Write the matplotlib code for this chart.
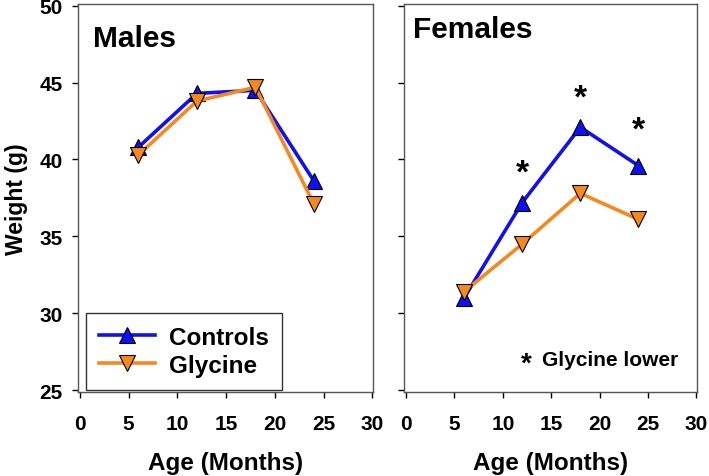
import matplotlib
matplotlib.use("Agg")
import matplotlib.pyplot as plt

plt.rcParams['font.family'] = ['Liberation Sans', 'DejaVu Sans']
plt.rcParams['font.weight'] = 'bold'

ages = [6, 12, 18, 24]
male_controls = [40.8, 44.3, 44.5, 38.6]
male_glycine = [40.3, 43.8, 44.7, 37.1]
female_controls = [31.0, 37.2, 42.1, 39.6]
female_glycine = [31.4, 34.5, 37.8, 36.1]
star_ages = [12, 18, 24]
star_y = [39.1, 44.0, 41.9]
xticks = [0, 5, 10, 15, 20, 25, 30]
yticks = [25, 30, 35, 40, 45, 50]

blue = '#1010F0'
orange = '#F5891F'
spine_col = '#555555'

fig = plt.figure(figsize=(7.09, 4.77), dpi=100)
ax1 = fig.add_axes([0.110, 0.176, 0.416, 0.814])
ax2 = fig.add_axes([0.570, 0.176, 0.413, 0.814])

for ax, c, g in [(ax1, male_controls, male_glycine),
                 (ax2, female_controls, female_glycine)]:
    ax.plot(ages, c, color=blue, lw=2.6, marker='^', ms=11,
            mfc=blue, mec='black', mew=0.8, label='Controls', zorder=3)
    ax.plot(ages, g, color=orange, lw=2.6, marker='v', ms=11,
            mfc=orange, mec='black', mew=0.8, label='Glycine', zorder=4)
    ax.set_xlim(-0.2, 30.05)
    ax.set_ylim(24.87, 50.13)
    ax.set_xticks(xticks)
    ax.set_yticks(yticks)
    for s in ax.spines.values():
        s.set_color(spine_col)
        s.set_linewidth(1.0)
    ax.tick_params(direction='out', length=4, width=1, color='black',
                   labelsize=15)
    ax.tick_params(axis='y', pad=7)
    ax.tick_params(axis='x', pad=12)
    for lab in ax.get_xticklabels() + ax.get_yticklabels():
        lab.set_fontweight('bold')
    ax.set_xlabel('Age (Months)', fontsize=17.5, fontweight='bold', labelpad=12.5)

ax1.text(0.05, 0.948, 'Males', transform=ax1.transAxes, fontsize=21.5,
         fontweight='bold', va='top', ha='left')
ax2.text(0.03, 0.97, 'Females', transform=ax2.transAxes, fontsize=21.5,
         fontweight='bold', va='top', ha='left')

ax2.set_yticklabels([])
ax1.set_ylabel('Weight (g)', fontsize=16.5, fontweight='bold', labelpad=8)

for x, y in zip(star_ages, star_y):
    ax2.text(x, y, '*', fontsize=24, fontweight='bold', ha='center', va='center')
ax2.text(12.4, 26.7, '*', fontsize=20, fontweight='bold', ha='center', va='center')
ax2.text(14.0, 27.0, 'Glycine lower', fontsize=15, fontweight='bold', ha='left', va='center')

leg = ax1.legend(loc='lower left', bbox_to_anchor=(0.027, 0.005), fontsize=17.5,
                 frameon=True, fancybox=False, edgecolor='black', handlelength=2.3,
                 borderpad=0.55, labelspacing=0.2, handletextpad=0.55,
                 borderaxespad=0)
leg.get_frame().set_linewidth(1.0)
for t in leg.get_texts():
    t.set_fontweight('bold')

fig.savefig('out.png', dpi=100)
